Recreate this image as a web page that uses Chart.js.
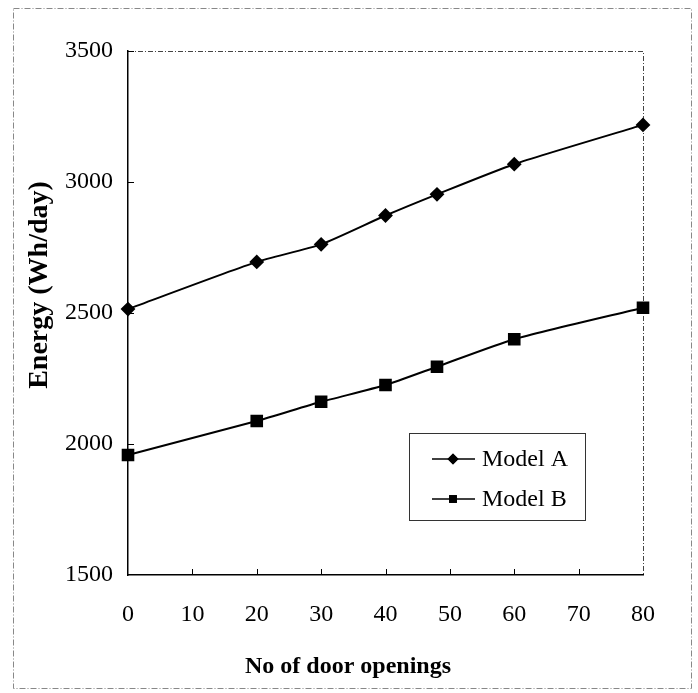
<!DOCTYPE html>
<html>
<head>
<meta charset="utf-8">
<title>Energy vs door openings</title>
<script src="https://cdn.jsdelivr.net/npm/chart.js@4.4.0/dist/chart.umd.min.js"></script>
<style>
    body { margin: 0; background: #fff; }
    #wrap { width: 698px; height: 693px; }
</style>
</head>
<body>
<div id="wrap"><canvas id="myChart" width="698" height="693"></canvas></div>
<script>
// values
const doorOpenings = [0, 20, 30, 40, 48, 60, 80];
const modelA = [2515, 2695, 2762, 2872, 2953, 3068, 3218];
const modelB = [1958, 2088, 2161, 2225, 2295, 2400, 2520];
const xTicks = [0, 10, 20, 30, 40, 50, 60, 70, 80];
const yTicks = [1500, 2000, 2500, 3000, 3500];
const seriesNames = ['Model A', 'Model B'];

const serif = "'Liberation Serif', 'Times New Roman', serif";

// frame, inward tick marks, axis titles and the boxed legend
const paperBits = {
    id: 'paperBits',
    beforeDraw(chart) {
        const ctx = chart.ctx;
        const a = chart.chartArea;
        ctx.save();
        ctx.fillStyle = '#fff';
        ctx.fillRect(0, 0, chart.width, chart.height);
        ctx.strokeStyle = '#888';
        ctx.lineWidth = 1;
        ctx.setLineDash([6, 2, 1, 2]);
        ctx.strokeRect(13.5, 8.5, 678, 680);
        // top and right edge of the plot are dotted in the scan
        ctx.strokeStyle = '#444';
        ctx.setLineDash([5, 2, 1, 2]);
        ctx.beginPath();
        ctx.moveTo(a.left, a.top + 0.5);
        ctx.lineTo(a.right + 0.5, a.top + 0.5);
        ctx.lineTo(a.right + 0.5, a.bottom);
        ctx.stroke();
        ctx.restore();
    },
    afterDraw(chart) {
        const ctx = chart.ctx;
        const a = chart.chartArea;
        const xs = chart.scales.x, ys = chart.scales.y;
        ctx.save();
        ctx.strokeStyle = '#000';
        ctx.lineWidth = 1;
        ctx.beginPath();
        yTicks.slice(1).forEach(v => {
            const py = Math.round(ys.getPixelForValue(v)) + 0.5;
            ctx.moveTo(a.left, py);
            ctx.lineTo(a.left + 6, py);
        });
        xTicks.slice(1, -1).forEach(v => {
            const px = Math.round(xs.getPixelForValue(v)) + 0.5;
            ctx.moveTo(px, a.bottom);
            ctx.lineTo(px, a.bottom - 6);
        });
        ctx.stroke();

        // axis titles
        ctx.fillStyle = '#000';
        ctx.font = 'bold 24px ' + serif;
        ctx.textAlign = 'center';
        ctx.textBaseline = 'middle';
        ctx.fillText('No of door openings', 348, 667);
        ctx.save();
        ctx.translate(40, 285);
        ctx.rotate(-Math.PI / 2);
        ctx.font = 'bold 28px ' + serif;
        ctx.fillText('Energy (Wh/day)', 0, 0);
        ctx.restore();

        // legend box
        const bx = a.left + 281, by = a.top + 382;
        ctx.fillStyle = '#fff';
        ctx.fillRect(bx, by, 176, 87);
        ctx.strokeStyle = '#333';
        ctx.strokeRect(bx + 0.5, by + 0.5, 176, 87);
        ctx.font = '24px ' + serif;
        ctx.textAlign = 'left';
        chart.data.datasets.forEach((ds, i) => {
            const ry = by + 26 + i * 40;
            ctx.strokeStyle = '#000';
            ctx.lineWidth = 1.5;
            ctx.beginPath();
            ctx.moveTo(bx + 23, ry);
            ctx.lineTo(bx + 66, ry);
            ctx.stroke();
            ctx.fillStyle = '#000';
            Chart.helpers.drawPoint(ctx, {pointStyle: ds.pointStyle, radius: 5.5, rotation: 0}, bx + 44, ry);
            ctx.fill();
            ctx.fillText(ds.label, bx + 73, ry + 1);
        });
        ctx.restore();
    }
};

const ctx = document.getElementById('myChart').getContext('2d');
const myChart = new Chart(ctx, {
    type: 'line',
    data: {
        datasets: [{
            label: seriesNames[0],
            data: doorOpenings.map((x, i) => ({x: x, y: modelA[i]})),
            borderColor: '#000',
            backgroundColor: '#000',
            borderWidth: 2,
            pointStyle: 'rectRot',
            pointRadius: 6,
            tension: 0.2,
            clip: false
        }, {
            label: seriesNames[1],
            data: doorOpenings.map((x, i) => ({x: x, y: modelB[i]})),
            borderColor: '#000',
            backgroundColor: '#000',
            borderWidth: 2,
            pointStyle: 'rect',
            pointRadius: 7.5,
            tension: 0.2,
            clip: false
        }]
    },
    options: {
        responsive: false,
        animation: false,
        layout: {
            padding: {left: 0, top: 51, right: 55, bottom: 0}
        },
        plugins: {
            legend: {display: false},
            tooltip: {enabled: false}
        },
        scales: {
            x: {
                type: 'linear',
                min: 0,
                max: 80,
                afterBuildTicks: s => { s.ticks = xTicks.map(v => ({value: v})); },
                afterFit: s => { s.height = 118; },
                grid: {display: false, drawTicks: false},
                border: {display: true, color: '#000', width: 1.5},
                ticks: {color: '#000', padding: 25, font: {family: serif, size: 24}, maxRotation: 0,
                        callback: v => String(v)}
            },
            y: {
                min: 1500,
                max: 3500,
                afterBuildTicks: s => { s.ticks = yTicks.map(v => ({value: v})); },
                afterFit: s => { s.width = 128; },
                grid: {display: false, drawTicks: false},
                border: {display: true, color: '#000', width: 1.5},
                ticks: {color: '#000', padding: 15, font: {family: serif, size: 24},
                        callback: v => String(v)}
            }
        }
    },
    plugins: [paperBits]
});
</script>
</body>
</html>
